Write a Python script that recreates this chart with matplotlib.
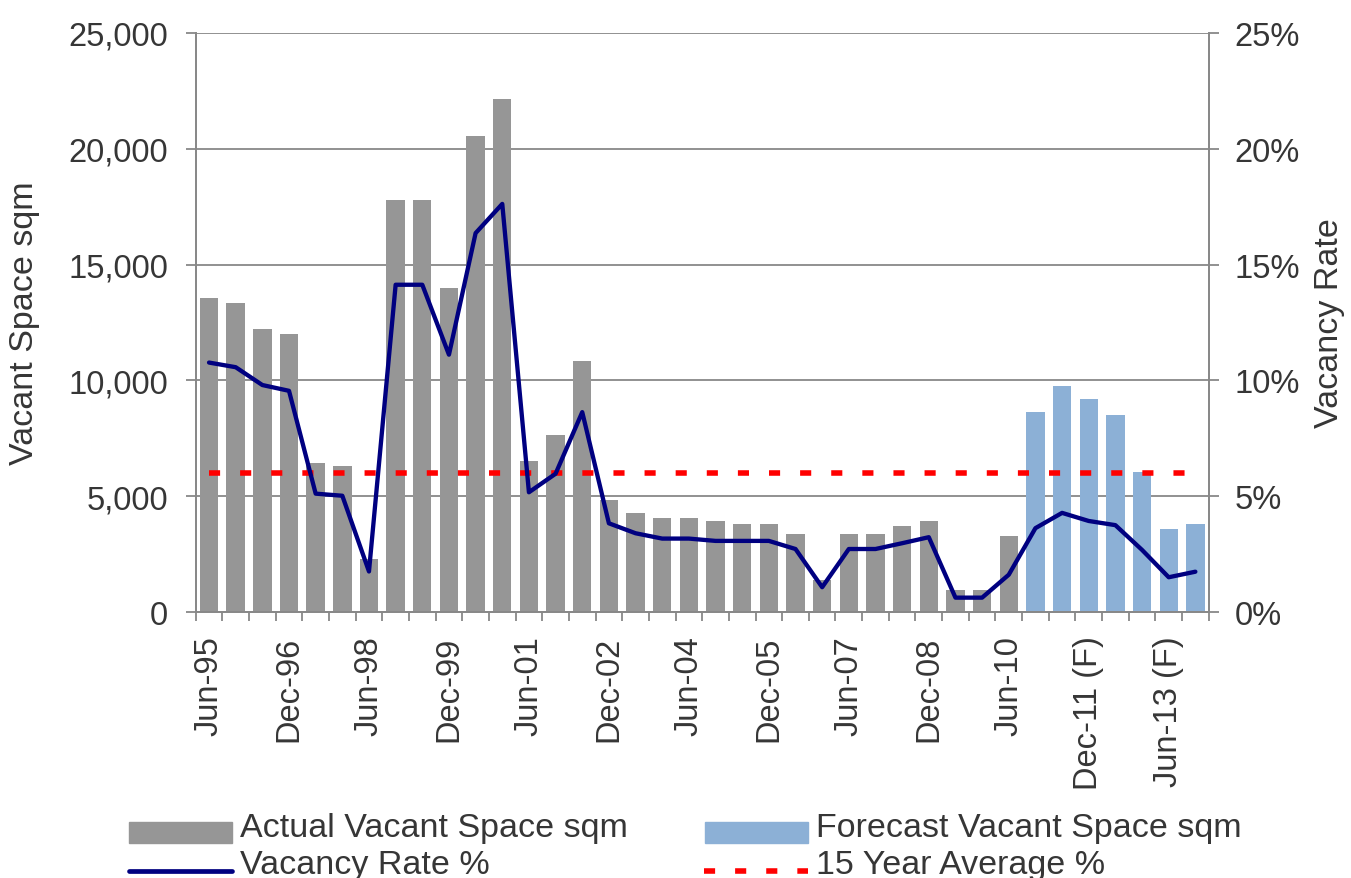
import matplotlib
matplotlib.use("Agg")
import matplotlib.pyplot as plt
from matplotlib.patches import Rectangle
from matplotlib.lines import Line2D
import numpy as np

plt.rcParams['font.family'] = ['Liberation Sans', 'DejaVu Sans']

# ---- data ----
periods = ['Jun-95', 'Dec-95', 'Jun-96', 'Dec-96', 'Jun-97', 'Dec-97', 'Jun-98', 'Dec-98',
           'Jun-99', 'Dec-99', 'Jun-00', 'Dec-00', 'Jun-01', 'Dec-01', 'Jun-02', 'Dec-02',
           'Jun-03', 'Dec-03', 'Jun-04', 'Dec-04', 'Jun-05', 'Dec-05', 'Jun-06', 'Dec-06',
           'Jun-07', 'Dec-07', 'Jun-08', 'Dec-08', 'Jun-09', 'Dec-09', 'Jun-10',
           'Dec-10 (F)', 'Jun-11 (F)', 'Dec-11 (F)', 'Jun-12 (F)', 'Dec-12 (F)',
           'Jun-13 (F)', 'Dec-13 (F)']
actual_vacant = [13560, 13344, 12214, 11997, 6455, 6316, 2291, 17802, 17802, 13994,
                 20573, 22136, 6520, 7622, 10821, 4856, 4294, 4078, 4078, 3948,
                 3818, 3818, 3386, 1398, 3386, 3386, 3732, 3948, 965, 965, 3300]
forecast_vacant = [8617, 9741, 9179, 8487, 6066, 3602, 3818]
vacancy_rate = [10.77, 10.57, 9.80, 9.55, 5.11, 5.02, 1.75, 14.13, 14.13, 11.11,
                16.36, 17.62, 5.17, 5.97, 8.63, 3.83, 3.40, 3.17, 3.17, 3.07,
                3.07, 3.07, 2.72, 1.07, 2.72, 2.72, 2.97, 3.23, 0.62, 0.62,
                1.61, 3.62, 4.28, 3.93, 3.75, 2.68, 1.50, 1.74]
avg_15yr = 6.0
label_every = 3
left_ticks = [0, 5000, 10000, 15000, 20000, 25000]
right_ticks = [0, 5, 10, 15, 20, 25]

# ---- styles ----
GRAY = '#969696'
BLUE = '#8cb0d6'
NAVY = '#000080'
RED = '#ff0000'
AXC = '#888888'
TXT = '#363636'
FS = 23.5
FS_L = 24.5

W, H = 1351, 879
fig = plt.figure(figsize=(W / 100, H / 100), dpi=100)
L, R, T, B = 195.7, 1208.7, 34, 613
ax = fig.add_axes([L / W, 1 - B / H, (R - L) / W, (B - T) / H])
ax2 = ax.twinx()

n = len(periods)
x = np.arange(n)
na = len(actual_vacant)
bw = 0.69
ax.bar(x[:na], actual_vacant, width=bw, color=GRAY, zorder=2)
ax.bar(x[na:], forecast_vacant, width=bw, color=BLUE, zorder=2)

ax2.plot(x, [avg_15yr] * n, color=RED, lw=4, linestyle=(0, (2, 3.6)),
         dash_capstyle='butt', zorder=3)
ax2.plot(x, vacancy_rate, color=NAVY, lw=3.1, solid_joinstyle='round',
         solid_capstyle='round', zorder=4)

ax.set_xlim(-0.5, n - 0.5)
ax.set_ylim(0, 25000)
ax2.set_ylim(0, 25)

ax.set_yticks(left_ticks)
ax.set_yticklabels([f'{v:,}' for v in left_ticks])
ax2.set_yticks(right_ticks)
ax2.set_yticklabels([f'{v}%' for v in right_ticks])

ax.set_xticks(x[::label_every])
ax.set_xticklabels(periods[::label_every], rotation=90)
ax.set_xticks(np.arange(-0.5, n, 1.0), minor=True)

ax.yaxis.grid(True, color=AXC, lw=1.3)
ax.set_axisbelow(True)

for a in (ax, ax2):
    for s in a.spines.values():
        s.set_color(AXC)
        s.set_linewidth(1.3)
    a.spines['top'].set_visible(False)

ax.tick_params(axis='x', which='major', length=0, pad=17, labelsize=FS, labelcolor=TXT)
ax.tick_params(axis='x', which='minor', length=6.5, width=1.3, color=AXC, direction='out')
ax.tick_params(axis='y', length=7.2, width=1.3, color=AXC, pad=12.5, labelsize=FS, labelcolor=TXT)
ax2.tick_params(axis='y', length=7, width=1.3, color=AXC, pad=11.5, labelsize=FS, labelcolor=TXT)

ax.set_ylabel('Vacant Space sqm', fontsize=FS_L, color=TXT)
ax.yaxis.set_label_coords((40 - L) / (R - L), 0.5)
ax2.set_ylabel('Vacancy Rate', fontsize=FS_L, color=TXT)
ax2.yaxis.set_label_coords((1314 - L) / (R - L), 0.5)

# ---- legend (manual, two columns) ----
def fx(px):
    return px / W

def fy(py):
    return 1 - py / H

fig.add_artist(Rectangle((fx(129), fy(844)), fx(232) - fx(129), (844 - 823) / H,
                         transform=fig.transFigure, color=GRAY))
fig.add_artist(Rectangle((fx(705), fy(844)), fx(808) - fx(705), (844 - 823) / H,
                         transform=fig.transFigure, color=BLUE))
fig.add_artist(Line2D([fx(129), fx(232)], [fy(872), fy(872)], transform=fig.transFigure,
                      color=NAVY, lw=3.4, solid_capstyle='round'))
fig.add_artist(Line2D([fx(704), fx(808)], [fy(871.5), fy(871.5)], transform=fig.transFigure,
                      color=RED, lw=4, linestyle=(0, (2, 3.6)), dash_capstyle='butt'))
fig.text(fx(240), fy(837), 'Actual Vacant Space sqm', fontsize=FS_L, color=TXT, va='baseline')
fig.text(fx(816), fy(837), 'Forecast Vacant Space sqm', fontsize=FS_L, color=TXT, va='baseline')
fig.text(fx(240), fy(874), 'Vacancy Rate %', fontsize=FS_L, color=TXT, va='baseline')
fig.text(fx(816), fy(874), '15 Year Average %', fontsize=FS_L, color=TXT, va='baseline')

fig.savefig('out.png', dpi=100)
